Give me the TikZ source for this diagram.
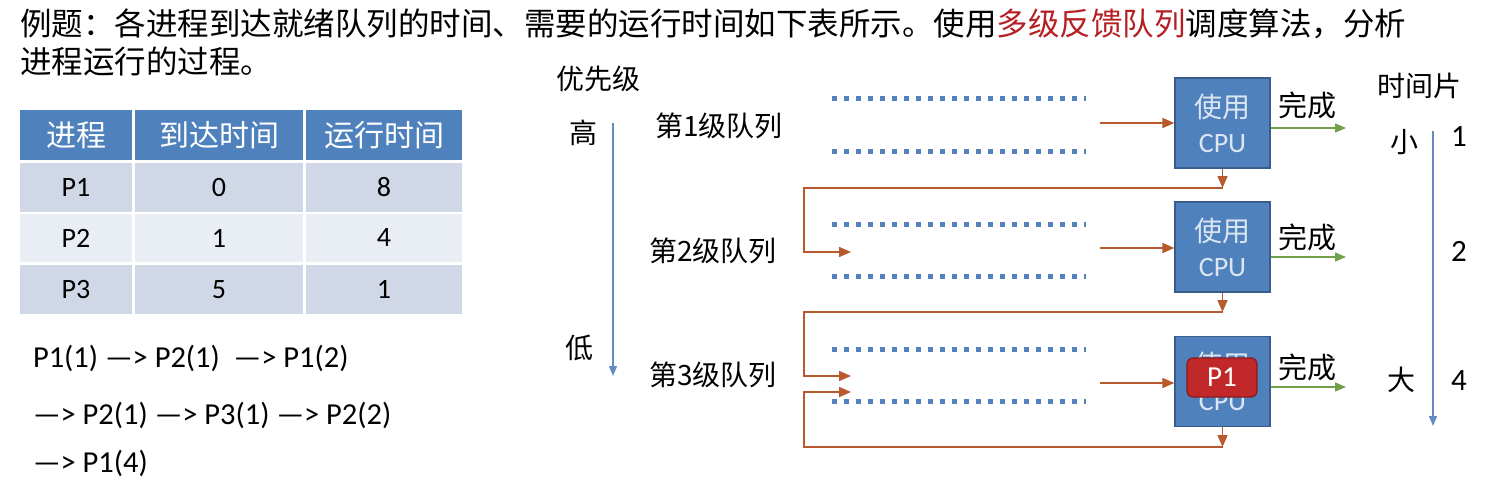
\documentclass[tikz,border=0pt]{standalone}
\usepackage{fontspec}
\setmainfont{Carlito}
\newfontfamily\cjk{Noto Sans CJK SC}
\usetikzlibrary{arrows.meta}
\definecolor{qred}{RGB}{180,32,36}
\definecolor{thead}{RGB}{79,129,189}
\definecolor{rowA}{RGB}{208,216,232}
\definecolor{rowB}{RGB}{233,237,244}
\definecolor{dotblue}{RGB}{84,130,190}
\definecolor{axblue}{RGB}{100,140,190}
\definecolor{brn}{RGB}{184,90,45}
\definecolor{grn}{RGB}{112,160,72}
\definecolor{cpufill}{RGB}{79,129,189}
\definecolor{cpuline}{RGB}{56,93,138}
\definecolor{cputext}{RGB}{220,230,242}
\definecolor{pfill}{RGB}{192,40,42}
\definecolor{pline}{RGB}{139,26,26}
\newcommand\myfs[1]{\fontsize{#1}{#1}\selectfont}
\begin{document}
\begin{tikzpicture}[x=1pt,y=-1pt,
  txt/.style={inner sep=0pt,outer sep=0pt},
  cell/.style={inner sep=0pt,outer sep=0pt,draw=none},
  hcell/.style={cell,fill=thead,text=white,font=\cjk\myfs{30}},
  dcell/.style={cell,font=\myfs{28}},
  cjkl/.style={txt,font=\cjk\myfs{28}},
  queue/.style={dotblue,line width=5pt,dash pattern=on 5pt off 7pt},
  feed/.style={brn,line width=1.6pt,-{Triangle[length=12pt,width=10pt]}},
  done/.style={grn,line width=1.4pt,-{Triangle[length=11pt,width=9pt]}},
  axis/.style={axblue,line width=1.4pt,-{Triangle[length=10pt,width=8pt]}},
  cpu/.style={draw=cpuline,line width=1.2pt,fill=cpufill,text=cputext,minimum width=95pt,minimum height=90pt,inner sep=0pt,align=center,font=\fontsize{28}{35}\selectfont},
  pbox/.style={draw=pline,line width=1.2pt,fill=pfill,text=white,rounded corners=6pt,minimum width=70pt,minimum height=39pt,inner sep=0pt,font=\myfs{29}}
]
\useasboundingbox (0,0) rectangle (1485,492);
\fill[white] (0,0) rectangle (1485,492);

% title
\node[txt,anchor=west,font=\cjk\myfs{31.5}] (t1) at (20,24) {例题：各进程到达就绪队列的时间、需要的运行时间如下表所示。使用\textcolor{qred}{多级反馈队列}调度算法，分析};
\node[txt,anchor=west,font=\cjk\myfs{31.5}] (t2) at (20,62) {进程运行的过程。};

% table
\node[hcell,minimum width=112pt,minimum height=50pt] (h1) at (76,135) {进程};
\node[hcell,minimum width=168pt,minimum height=50pt] (h2) at (219,135) {到达时间};
\node[hcell,minimum width=156pt,minimum height=50pt] (h3) at (384,135) {运行时间};
\node[dcell,fill=rowA,minimum width=112pt,minimum height=49pt] (a1) at (76,187.5) {P1};
\node[dcell,fill=rowA,minimum width=168pt,minimum height=49pt] (a2) at (219,187.5) {0};
\node[dcell,fill=rowA,minimum width=156pt,minimum height=49pt] (a3) at (384,187.5) {8};
\node[dcell,fill=rowB,minimum width=112pt,minimum height=48pt] (b1) at (76,238) {P2};
\node[dcell,fill=rowB,minimum width=168pt,minimum height=48pt] (b2) at (219,238) {1};
\node[dcell,fill=rowB,minimum width=156pt,minimum height=48pt] (b3) at (384,238) {4};
\node[dcell,fill=rowA,minimum width=112pt,minimum height=49pt] (c1) at (76,289.5) {P3};
\node[dcell,fill=rowA,minimum width=168pt,minimum height=49pt] (c2) at (219,289.5) {5};
\node[dcell,fill=rowA,minimum width=156pt,minimum height=49pt] (c3) at (384,289.5) {1};

% sequence
\node[txt,anchor=west,font=\myfs{30.5}] (s1) at (33,358) {P1(1) —> P2(1) \ —> P1(2)};
\node[txt,anchor=west,font=\myfs{30.5}] (s2) at (33,415) {—> P2(1) —> P3(1) —> P2(2)};
\node[txt,anchor=west,font=\myfs{30.5}] (s3) at (33,463) {—> P1(4)};

% priority axis
\node[cjkl] (prio) at (598,79) {优先级};
\node[cjkl] (hi) at (583,133) {高};
\node[cjkl] (lo) at (579,348) {低};
\coordinate (pa1) at (613,123);
\coordinate (pa2) at (613,376);
\draw[axis] (pa1) -- (pa2);

% queue labels
\node[cjkl,anchor=west] (q1) at (655,126) {第1级队列};
\node[cjkl,anchor=west] (q2) at (649,251) {第2级队列};
\node[cjkl,anchor=west] (q3) at (649,375) {第3级队列};

% dotted queue lines
\foreach \yy in {99,151,224,276,349,401}{
  \draw[queue] (832,\yy) -- (1086,\yy);
}

% CPU boxes
\node[cpu] (cpu1) at (1222.5,123) {\cjk 使用\\CPU};
\node[cpu] (cpu2) at (1222.5,247) {\cjk 使用\\CPU};
\node[cpu] (cpu3) at (1222.5,381.5) {\cjk 使用\\CPU};
\node[pbox] (p1) at (1222,377.5) {P1};

% input arrows
\coordinate (in1) at (1100,123);
\coordinate (in2) at (1100,248);
\coordinate (in3) at (1100,383);
\draw[feed] (in1) -- (in1 -| cpu1.west);
\draw[feed] (in2) -- (in2 -| cpu2.west);
\draw[feed] (in3) -- (in3 -| cpu3.west);

% done arrows
\coordinate (o1) at (1346,128);
\coordinate (o2) at (1346,257);
\coordinate (o3) at (1346,387);
\draw[done] (o1 -| cpu1.east) -- (o1);
\draw[done] (o2 -| cpu2.east) -- (o2);
\draw[done] (o3 -| cpu3.east) -- (o3);
\node[cjkl,font=\cjk\myfs{29}] (d1) at (1307,105) {完成};
\node[cjkl,font=\cjk\myfs{29}] (d2) at (1307,237) {完成};
\node[cjkl,font=\cjk\myfs{29}] (d3) at (1307,367) {完成};

% feedback
\coordinate (f1) at (1222.5,188);
\coordinate (f2) at (1222.5,312);
\coordinate (f3) at (1222.5,447);
\coordinate (e2) at (851,252);
\coordinate (e3a) at (851,376);
\coordinate (e3b) at (851,392);
\draw[feed] (cpu1.south) -- (f1);
\draw[feed] (cpu2.south) -- (f2);
\draw[feed] (cpu3.south) -- (f3);
\draw[feed] (f1) -- (804,188) |- (e2);
\draw[feed] (f2) -- (804,312) |- (e3a);
\draw[feed] (f3) -- (804,447) |- (e3b);

% time slice axis
\node[cjkl] (ts) at (1419,86) {时间片};
\node[cjkl] (sm) at (1404,142) {小};
\node[cjkl] (bg) at (1401,380) {大};
\node[txt,font=\myfs{31}] (n1) at (1459,137) {1};
\node[txt,font=\myfs{31}] (n2) at (1459,251) {2};
\node[txt,font=\myfs{31}] (n4) at (1459,381) {4};
\coordinate (ta1) at (1433,131);
\coordinate (ta2) at (1433,426);
\draw[axis] (ta1) -- (ta2);
\end{tikzpicture}
\end{document}
